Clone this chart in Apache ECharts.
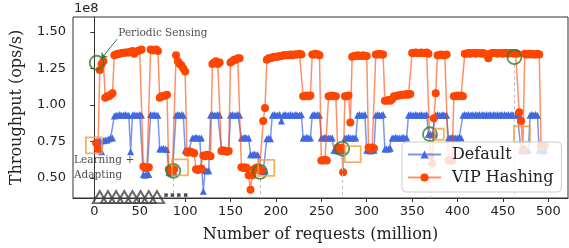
<!DOCTYPE html>
<html><head><meta charset="utf-8">
<script src="https://cdn.jsdelivr.net/npm/echarts@6/dist/echarts.min.js"></script>
<style>html,body{margin:0;padding:0;background:#fff}#c{width:569px;height:248px}</style>
</head><body><div id="c"></div>
<script>
// x positions (million requests)
const xs = [
2,4,6,8,10,12,14,16,18,20,22,24,26,28,30,32,34,36,38,40,
42,44,46,48,50,52,54,56,58,60,62,64,66,68,70,72,74,76,78,80,
82,84,86,88,90,92,94,96,98,100,102,104,106,108,110,112,114,116,118,120,
122,124,126,128,130,132,134,136,138,140,142,144,146,148,150,152,154,156,158,160,
162,164,166,168,170,172,174,176,178,180,182,184,186,188,190,192,194,196,198,200,
202,204,206,208,210,212,214,216,218,220,222,224,226,228,230,232,234,236,238,240,
242,244,246,248,250,252,254,256,258,260,262,264,266,268,270,272,274,276,278,280,
282,284,286,288,290,292,294,296,298,300,302,304,306,308,310,312,314,316,318,320,
322,324,326,328,330,332,334,336,338,340,342,344,346,348,350,352,354,356,358,360,
362,364,366,368,370,372,374,376,378,380,382,384,386,388,390,392,394,396,398,400,
402,404,406,408,410,412,414,416,418,420,422,424,426,428,430,432,434,436,438,440,
442,444,446,448,450,452,454,456,458,460,462,464,466,468,470,472,474,476,478,480,
482,484,486,488,490,492,494,496];
// VIP Hashing throughput (x1e8 ops/s)
const vipHashing = [
0.74,0.70,1.24,1.28,1.30,1.05,1.06,1.06,1.07,1.08,1.34,1.345,1.35,1.35,1.355,1.355,1.36,1.36,1.36,1.365,
1.37,1.35,1.365,1.37,1.375,1.38,0.58,0.57,0.57,0.575,1.38,1.375,1.375,1.38,1.37,1.05,1.06,1.06,1.065,1.07,
0.56,0.55,0.55,0.56,1.34,1.30,1.28,1.27,1.25,1.23,0.675,0.675,0.68,0.675,0.67,0.56,0.555,0.56,0.565,0.655,
0.65,0.66,0.655,0.65,1.28,1.29,1.30,1.28,1.29,0.685,0.69,0.685,0.68,0.685,1.29,1.30,1.31,1.31,1.32,1.32,
0.575,0.57,0.575,0.57,0.52,0.42,0.52,0.56,0.57,0.575,0.56,0.55,0.89,0.98,1.31,1.32,1.32,1.325,1.33,1.33,
1.33,1.335,1.335,1.34,1.34,1.34,1.34,1.345,1.34,1.345,1.345,1.345,1.35,1.345,1.06,1.06,1.065,1.06,1.065,1.345,
1.345,1.35,1.345,1.34,0.62,0.62,0.625,0.62,1.06,1.06,1.065,1.06,1.06,0.71,0.70,0.71,0.54,1.06,1.06,1.065,
0.88,1.33,1.335,1.335,1.34,1.335,1.335,1.34,1.335,1.335,0.71,0.70,0.71,0.705,1.345,1.345,1.35,1.345,1.345,1.03,
1.03,1.035,1.03,1.04,1.06,1.06,1.065,1.065,1.07,1.07,1.07,1.075,1.07,1.075,1.355,1.355,1.36,1.355,1.355,1.36,
1.355,1.355,1.36,1.35,0.65,0.60,0.91,1.08,1.34,1.34,1.345,1.34,1.34,1.345,0.62,0.62,0.62,1.06,1.06,1.065,
1.06,1.065,1.06,1.35,1.35,1.355,1.35,1.355,1.355,1.35,1.355,1.355,1.35,1.355,1.35,1.345,1.32,1.35,1.355,1.355,
1.355,1.35,1.355,1.355,1.35,1.355,1.355,1.35,1.355,1.355,1.35,1.355,1.35,0.95,0.89,0.70,1.35,1.345,1.35,1.345,
1.35,1.345,1.345,1.35,1.345,0.72,0.72,0.72];
// Default throughput (x1e8 ops/s)
const defaultHash = [
0.75,0.75,0.755,0.68,0.755,0.76,0.76,0.77,0.775,0.775,0.925,0.93,0.93,0.935,0.93,0.93,0.935,0.93,0.93,0.68,
0.93,0.935,0.93,0.93,0.935,0.93,0.525,0.52,0.525,0.525,0.935,0.93,0.935,0.93,0.93,0.70,0.70,0.705,0.70,0.695,
0.54,0.535,0.54,0.54,0.93,0.935,0.93,0.935,0.93,0.69,0.69,0.69,0.69,0.775,0.775,0.78,0.775,0.775,0.775,0.41,
0.55,0.55,0.55,0.93,0.935,0.93,0.93,0.935,0.93,0.69,0.69,0.685,0.69,0.69,0.93,0.935,0.93,0.93,0.935,0.93,
0.775,0.775,0.78,0.775,0.775,0.66,0.66,0.665,0.66,0.66,0.55,0.55,0.545,0.55,0.77,0.775,0.77,0.93,0.935,0.93,
0.93,0.935,0.89,0.93,0.935,0.93,0.93,0.935,0.93,0.93,0.935,0.93,0.93,0.935,0.775,0.775,0.78,0.775,0.775,0.93,
0.935,0.93,0.935,0.93,0.775,0.775,0.78,0.775,0.775,0.775,0.775,0.69,0.69,0.685,0.69,0.69,0.69,0.775,0.775,0.78,
0.775,0.775,0.775,0.775,0.93,0.935,0.93,0.93,0.935,0.69,0.69,0.685,0.69,0.69,0.93,0.935,0.93,0.93,0.935,0.70,
0.70,0.70,0.705,0.775,0.775,0.78,0.775,0.775,0.775,0.78,0.775,0.775,0.93,0.935,0.93,0.93,0.935,0.93,0.93,0.935,
0.93,0.93,0.935,0.80,0.80,0.795,0.80,0.93,0.935,0.93,0.93,0.935,0.93,0.93,0.775,0.775,0.78,0.775,0.775,0.775,
0.78,0.775,0.93,0.935,0.93,0.935,0.93,0.935,0.93,0.935,0.93,0.935,0.93,0.935,0.93,0.935,0.93,0.935,0.93,0.935,
0.93,0.935,0.93,0.935,0.93,0.935,0.93,0.935,0.93,0.935,0.93,0.935,0.93,0.935,0.69,0.69,0.685,0.69,0.69,0.93,
0.935,0.93,0.935,0.93,0.69,0.69,0.685,0.69];
const xTicks = [0,50,100,150,200,250,300,350,400,450,500];
const yTicks = [0.5,0.75,1.0,1.25,1.5];
// annotation marks (data coordinates)
const sensingCircles = [[2.6,1.289],[87,0.55],[182.5,0.543],[273,0.702],[369.7,0.80],[462.6,1.327]];
const adaptSquares = [[-0.5,0.724],[94.4,0.573],[189.4,0.57],[284.6,0.664],[471,0.80]];
const smallSquares = [[380,0.80]];
const learnTriX = [6,15,24,33,42,51,60,69];
const learnDotX = [79,86,93,100.6];

const X_MIN = -23.5, X_MAX = 521.7, Y_MIN = 0.364, Y_MAX = 1.602;
const sans = 'DejaVu Sans', serif = 'DejaVu Serif';

const chart = echarts.init(document.getElementById('c'), null, {renderer:'canvas'});
chart.setOption({
  animation:false,
  grid:{left:73, top:17, width:495, height:181, show:true, borderColor:'#333', borderWidth:1, backgroundColor:'transparent'},
  xAxis:{type:'value', min:X_MIN, max:X_MAX,
    name:'Number of requests (million)', nameLocation:'middle', nameGap:29,
    nameTextStyle:{fontFamily:serif, fontSize:16, color:'#222'},
    axisLine:{show:true, lineStyle:{color:'#333'}},
    axisTick:{show:true, length:4, customValues:xTicks, lineStyle:{color:'#333'}},
    axisLabel:{customValues:xTicks, fontFamily:sans, fontSize:13, color:'#222', margin:7},
    splitLine:{show:false}},
  yAxis:{type:'value', min:Y_MIN, max:Y_MAX,
    name:'Throughput (ops/s)', nameLocation:'middle', nameGap:48,
    nameTextStyle:{fontFamily:serif, fontSize:16, color:'#222'},
    axisLine:{show:true, lineStyle:{color:'#333'}},
    axisTick:{show:true, length:4, customValues:yTicks, lineStyle:{color:'#333'}},
    axisLabel:{customValues:yTicks, fontFamily:sans, fontSize:13, color:'#222', margin:7, formatter:v=>v.toFixed(2)},
    splitLine:{show:false}},
  legend:{orient:'vertical', left:402, top:142, z:20,
    data:['Default','VIP Hashing'], itemWidth:33, itemHeight:10, itemGap:4,
    padding:[3,8,5,5], backgroundColor:'rgba(255,255,255,0.82)', borderColor:'#cccccc', borderWidth:1, borderRadius:4,
    textStyle:{fontFamily:serif, fontSize:16, color:'#222', lineHeight:19, padding:[0,0,0,6]}},
  graphic:[{type:'text', left:74, top:2, style:{text:'1e8', font:'13px "DejaVu Sans"', fill:'#222'}}],
  series:[
    {name:'Default', type:'line', data:xs.map((x,i)=>[x,defaultHash[i]]), symbol:'triangle', symbolSize:7, showAllSymbol:true,
      itemStyle:{color:'#4169e1'}, lineStyle:{color:'rgba(65,105,225,0.7)', width:1.5}, z:2},
    {name:'VIP Hashing', type:'line', data:xs.map((x,i)=>[x,vipHashing[i]]), symbol:'circle', symbolSize:8, showAllSymbol:true,
      itemStyle:{color:'#ff4500'}, lineStyle:{color:'rgba(255,69,0,0.6)', width:1.5}, z:3},
    {type:'scatter', data:sensingCircles, symbol:'circle', symbolSize:14, z:6, silent:true,
      itemStyle:{color:'rgba(0,0,0,0)', borderColor:'#2e7d32', borderWidth:1.8},
      markLine:{silent:true, symbol:['none','none'], label:{show:false}, animation:false,
        lineStyle:{color:'#bbbbbb', type:[3,3], width:1},
        data:sensingCircles.slice(1).map(c=>[{coord:[c[0],c[1]-0.05]},{coord:[c[0],Y_MIN]}])}},
    {type:'scatter', data:adaptSquares, symbol:'rect', symbolSize:16, z:6, silent:true,
      itemStyle:{color:'rgba(0,0,0,0)', borderColor:'#f39c3c', borderWidth:1.8}},
    {type:'scatter', data:smallSquares, symbol:'rect', symbolSize:[9,11], z:6, silent:true,
      itemStyle:{color:'rgba(0,0,0,0)', borderColor:'#f39c3c', borderWidth:1.8}},
    {type:'scatter', data:learnTriX.map(x=>[x,0.37]), symbol:'triangle', symbolSize:[14,12], z:7, clip:false, silent:true,
      itemStyle:{color:'rgba(0,0,0,0)', borderColor:'#444', borderWidth:2}},
    {type:'scatter', data:learnDotX.map(x=>[x,0.384]), symbol:'rect', symbolSize:3.5, z:7, clip:false, silent:true,
      itemStyle:{color:'#222'}},
    {type:'scatter', data:[[26.4,1.492]], symbolSize:0, z:8, silent:true,
      label:{show:true, position:'right', distance:0, formatter:'Periodic Sensing', fontFamily:serif, fontSize:10.5, color:'#222'},
      markLine:{silent:true, symbol:['none','arrow'], symbolSize:6, label:{show:false},
        lineStyle:{color:'#2e7d32', type:'solid', width:1},
        data:[[{coord:[25,1.45]},{coord:[7.5,1.315]}]]}},
    {type:'scatter', data:[[-22.4,0.572]], symbolSize:0, z:8, silent:true,
      label:{show:true, position:'right', distance:0, formatter:'Learning +\nAdapting', fontFamily:serif, fontSize:10.5, lineHeight:15, color:'#222'}}
  ]
});
</script></body></html>
